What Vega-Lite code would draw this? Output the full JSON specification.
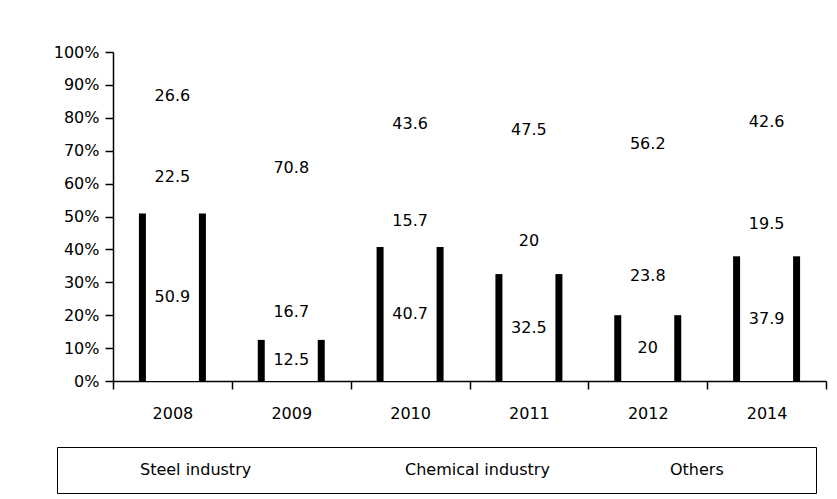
{
  "$schema": "https://vega.github.io/schema/vega-lite/v6.json",
  "width": 713,
  "height": 329,
  "autosize": {"type": "none"},
  "padding": {"left": 113, "top": 52, "right": 11, "bottom": 118},
  "background": "white",
  "config": {
    "view": {"stroke": null},
    "font": "DejaVu Sans",
    "axis": {"labelFont": "DejaVu Sans", "labelFontSize": 16, "labelColor": "black", "domainColor": "black", "tickColor": "black", "domainWidth": 1.5, "tickWidth": 1.5, "grid": false, "labelOverlap": false},
    "axisY": {"tickCount": 12, "labelOverlap": false}
  },
  "data": {
    "values": [
      {"year": "2008", "sector": "Steel industry", "rank": 1, "value": 50.9},
      {"year": "2008", "sector": "Chemical industry", "rank": 2, "value": 22.5},
      {"year": "2008", "sector": "Others", "rank": 3, "value": 26.6},
      {"year": "2009", "sector": "Steel industry", "rank": 1, "value": 12.5},
      {"year": "2009", "sector": "Chemical industry", "rank": 2, "value": 16.7},
      {"year": "2009", "sector": "Others", "rank": 3, "value": 70.8},
      {"year": "2010", "sector": "Steel industry", "rank": 1, "value": 40.7},
      {"year": "2010", "sector": "Chemical industry", "rank": 2, "value": 15.7},
      {"year": "2010", "sector": "Others", "rank": 3, "value": 43.6},
      {"year": "2011", "sector": "Steel industry", "rank": 1, "value": 32.5},
      {"year": "2011", "sector": "Chemical industry", "rank": 2, "value": 20},
      {"year": "2011", "sector": "Others", "rank": 3, "value": 47.5},
      {"year": "2012", "sector": "Steel industry", "rank": 1, "value": 20},
      {"year": "2012", "sector": "Chemical industry", "rank": 2, "value": 23.8},
      {"year": "2012", "sector": "Others", "rank": 3, "value": 56.2},
      {"year": "2014", "sector": "Steel industry", "rank": 1, "value": 37.9},
      {"year": "2014", "sector": "Chemical industry", "rank": 2, "value": 19.5},
      {"year": "2014", "sector": "Others", "rank": 3, "value": 42.6}
    ]
  },
  "transform": [
    {"stack": "value", "groupby": ["year"], "sort": [{"field": "rank", "order": "ascending"}], "offset": "normalize", "as": ["y0", "y1"]},
    {"calculate": "(datum.y0 + datum.y1) / 2", "as": "mid"}
  ],
  "encoding": {
    "x": {
      "field": "year", "type": "nominal", "title": null,
      "scale": {"paddingInner": 0, "paddingOuter": 0},
      "axis": {"labelAngle": 0, "tickBand": "extent", "tickSize": 8, "labelPadding": 16}
    }
  },
  "layer": [
    {
      "mark": {"type": "bar", "width": {"band": 0.57}, "strokeWidth": 0},
      "encoding": {
        "y": {"field": "y0", "type": "quantitative", "title": null, "scale": {"domain": [0, 1], "nice": false},
              "axis": {"format": ".0%", "values": [0, 0.1, 0.2, 0.3, 0.4, 0.5, 0.6, 0.7, 0.8, 0.9, 1], "tickCount": 12, "tickSize": 8, "labelPadding": 6, "labelOverlap": false}},
        "y2": {"field": "y1"},
        "color": {
          "field": "sector", "type": "nominal",
          "sort": ["Steel industry", "Chemical industry", "Others"],
          "scale": {"range": ["white", "white", "white"]},
          "legend": {
            "title": " ", "titleOrient": "right", "titlePadding": 77,
            "orient": "none", "legendX": -56, "legendY": 395, "direction": "horizontal", "columns": 3, "gridAlign": "all",
            "padding": 15, "strokeColor": "black", "fillColor": "white",
            "symbolType": "square", "symbolSize": 36, "symbolStrokeWidth": 0, "symbolFillColor": "white",
            "labelFont": "DejaVu Sans", "labelFontSize": 16, "labelColor": "black", "labelOffset": 52, "columnPadding": 52, "labelLimit": 300
          }
        }
      }
    },
    {
      "transform": [{"filter": "datum.rank == 1"}],
      "mark": {"type": "rule", "color": "black", "strokeWidth": 7, "xOffset": -30},
      "encoding": {"y": {"field": "y0", "type": "quantitative"}, "y2": {"field": "y1"}}
    },
    {
      "transform": [{"filter": "datum.rank == 1"}],
      "mark": {"type": "rule", "color": "black", "strokeWidth": 7, "xOffset": 30},
      "encoding": {"y": {"field": "y0", "type": "quantitative"}, "y2": {"field": "y1"}}
    },
    {
      "mark": {"type": "text", "font": "DejaVu Sans", "fontSize": 16, "color": "black", "align": "center", "baseline": "middle"},
      "encoding": {
        "y": {"field": "mid", "type": "quantitative"},
        "text": {"field": "value", "type": "quantitative"}
      }
    }
  ]
}
